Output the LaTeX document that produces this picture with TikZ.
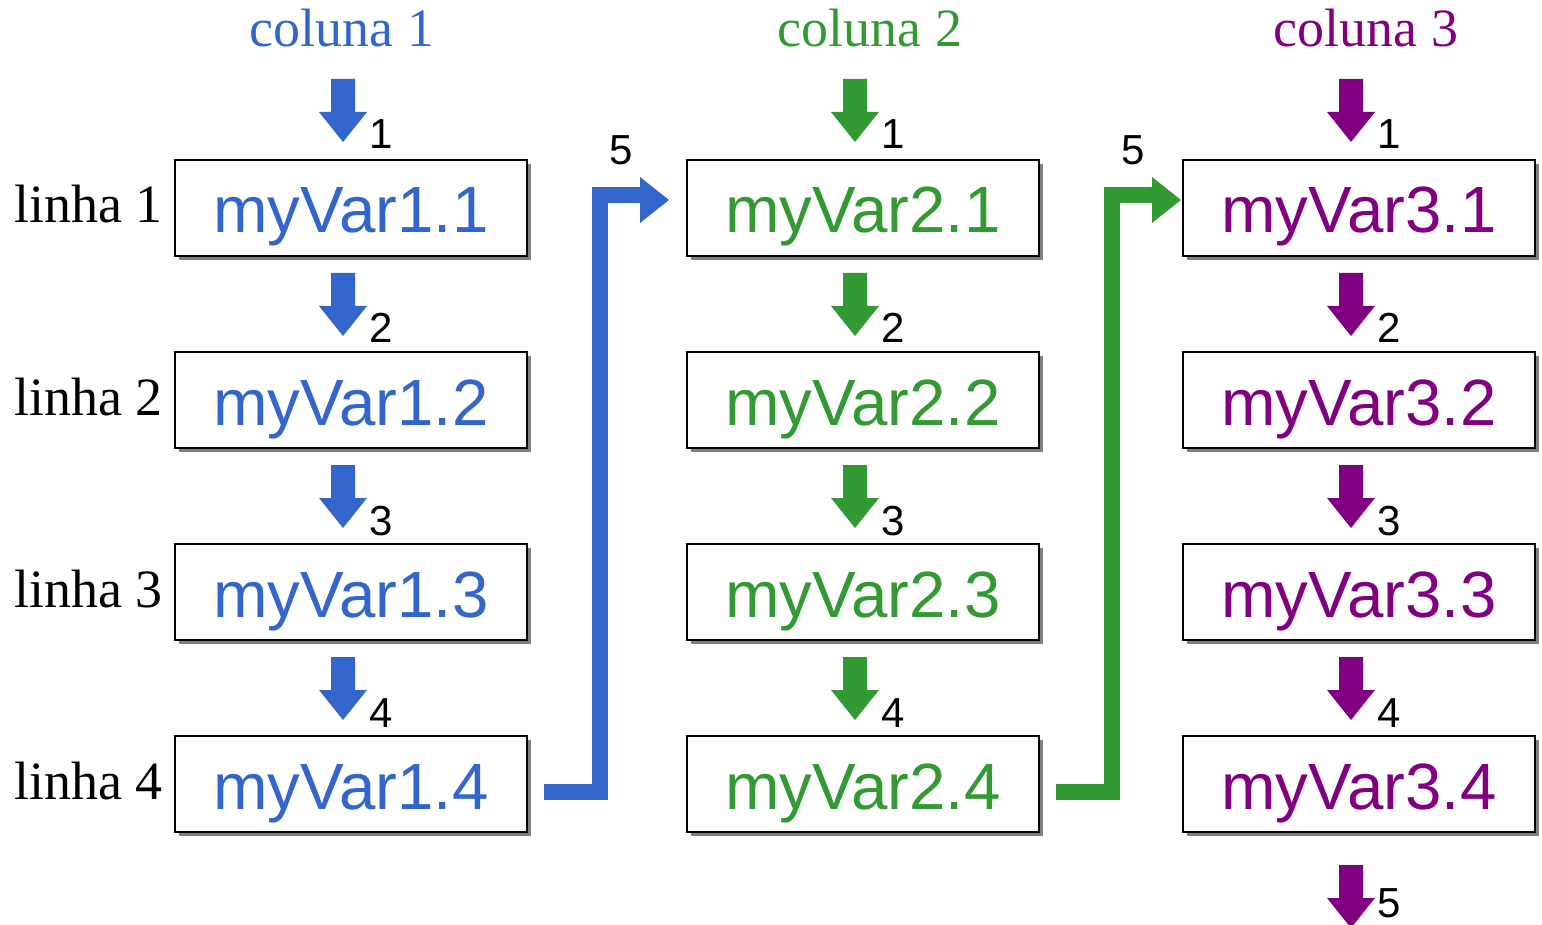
\documentclass[tikz,border=0pt]{standalone}
\usepackage{fontspec}
\setmainfont{Liberation Serif}
\newfontfamily\boxfont{Liberation Sans}
\usetikzlibrary{shadows,calc}
\definecolor{cblue}{RGB}{51,102,204}
\definecolor{cgreen}{RGB}{51,153,51}
\definecolor{cpurple}{RGB}{128,0,128}

\begin{document}
\begin{tikzpicture}[x=0.5pt,y=-0.5pt,
  varbox/.style={draw=black, line width=1pt, fill=white,
    minimum width=176pt, minimum height=48pt, inner sep=0pt,
    text height=25pt, text depth=0pt,
    font=\boxfont\fontsize{32.7}{38}\selectfont,
    drop shadow={shadow xshift=2pt, shadow yshift=-2pt, fill=black!50, opacity=1}},
  numlbl/.style={font=\boxfont\fontsize{21}{25}\selectfont, inner sep=0pt, anchor=base},
  rowlbl/.style={font=\fontsize{27}{32}\selectfont, inner sep=0pt, anchor=base west},
  hdr/.style={font=\fontsize{27}{32}\selectfont, inner sep=0pt, anchor=base},
  elbow/.style={line width=8pt, line join=miter, line cap=butt},
  dnarrow/.pic={\fill (-12,0) -- (12,0) -- (12,33) -- (24,33) -- (0,63) -- (-24,33) -- (-12,33) -- cycle;}
]
\useasboundingbox (0,0) rectangle (1542,925);

% column headers
\node[hdr, text=cblue]   (h1) at (342,47)  {coluna 1};
\node[hdr, text=cgreen]  (h2) at (870,47)  {coluna 2};
\node[hdr, text=cpurple] (h3) at (1366,47) {coluna 3};

% row labels
\foreach \r in {1,...,4}
  \node[rowlbl] (l\r) at (14,{223+192*(\r-1)}) {linha \r};

% variable boxes
\foreach \c/\x/\col in {1/351/cblue, 2/863/cgreen, 3/1359/cpurple} {
  \foreach \r in {1,...,4}
    \node[varbox, text=\col] (b\c\r) at (\x,{208+192*(\r-1)}) {myVar\c.\r};
}

% step arrows down each column
\foreach \c/\col in {1/cblue, 2/cgreen, 3/cpurple} {
  \pic[color=\col] at ($(b\c1.north)+(-8,-80)$) {dnarrow};
  \node[numlbl] at ($(b\c1.north)+(30,-10)$) {1};
  \foreach \r [evaluate=\r as \n using int(\r+1)] in {1,2,3} {
    \pic[color=\col] at ($(b\c\r.south)+(-8,16)$) {dnarrow};
    \node[numlbl] at ($(b\c\r.south)+(30,86)$) {\n};
  }
}
\pic[color=cpurple] at ($(b34.south)+(-8,32)$) {dnarrow};
\node[numlbl] at ($(b34.south)+(30,84)$) {5};

% jumps from the last row to the next column
\draw[elbow, cblue] ($(b14.east)+(16,8)$) -- ++(56,0) |- ($(b21.west)+(-46,-13)$);
\fill[cblue] ($(b21.west)+(-46,-31)$) -- ($(b21.west)+(-17,-8)$) -- ($(b21.west)+(-46,15)$) -- cycle;
\node[numlbl] at (621,165) {5};

\draw[elbow, cgreen] ($(b24.east)+(16,8)$) -- ++(56,0) |- ($(b31.west)+(-30,-13)$);
\fill[cgreen] ($(b31.west)+(-30,-31)$) -- ($(b31.west)+(-1,-8)$) -- ($(b31.west)+(-30,15)$) -- cycle;
\node[numlbl] at (1133,165) {5};
\end{tikzpicture}
\end{document}
